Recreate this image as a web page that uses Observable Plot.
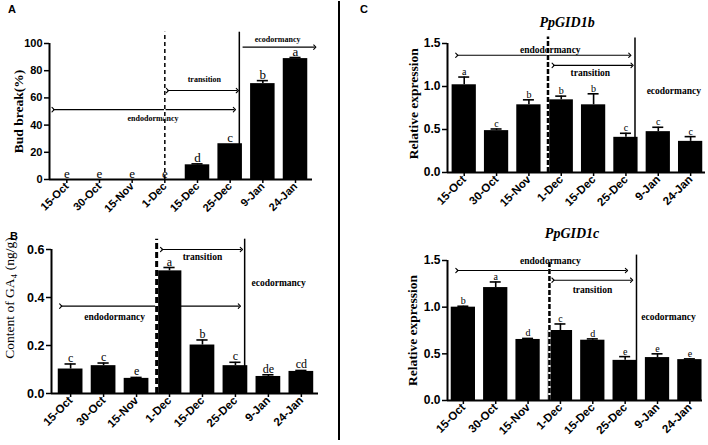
<!DOCTYPE html>
<html><head><meta charset="utf-8">
<script src="https://cdn.jsdelivr.net/npm/d3@7"></script>
<script src="https://cdn.jsdelivr.net/npm/@observablehq/plot@0.6"></script>
<style>
body{margin:0;background:#fff;}
#fig{position:relative;width:708px;height:445px;overflow:hidden;background:#fff;font-family:"Liberation Sans",Arial,sans-serif;}
.tag{position:absolute;font-weight:bold;font-size:11px;line-height:1;}
#divider{position:absolute;left:338px;top:1px;width:2px;height:439px;background:#000;}
</style></head>
<body><div id="fig"><div id="divider"></div></div>
<script>
// ---- data ----
const dates = ["15-Oct","30-Oct","15-Nov","1-Dec","15-Dec","25-Dec","9-Jan","24-Jan"];

const budBreak = [0, 0, 0, 0, 10.8, 26.3, 70.5, 88.9];
const budBreakSE = [0, 0, 0, 0, 0.7, 0, 2.2, 0.8];
const budBreakLetters = ["e","e","e","e","d","c","b","a"];

const ga4 = [0.102, 0.116, 0.063, 0.511, 0.202, 0.116, 0.071, 0.092];
const ga4SE = [0.021, 0.011, 0.004, 0.014, 0.021, 0.014, 0.007, 0.004];
const ga4Letters = ["c","c","e","a","b","c","de","cd"];

const gid1b = [1.02, 0.487, 0.787, 0.845, 0.787, 0.409, 0.475, 0.362];
const gid1bSE = [0.09, 0.019, 0.058, 0.043, 0.128, 0.047, 0.051, 0.055];
const gid1bLetters = ["a","c","b","b","b","c","c","c"];

const gid1c = [1.0, 1.21, 0.654, 0.75, 0.646, 0.43, 0.46, 0.438];
const gid1cSE = [0.01, 0.06, 0.011, 0.07, 0.014, 0.04, 0.04, 0.008];
const gid1cLetters = ["b","a","d","c","d","e","e","e"];

const ticksA = [0, 20, 40, 60, 80, 100];
const ticksB = [0, 0.2, 0.4, 0.6];
const ticksC = [0, 0.5, 1.0, 1.5];

// ---- dormancy-phase annotations (in category-index / value units) ----
const arrowsA = [
  {phase: "endodormancy", from: -0.42, to: 5.13, at: 51.4, heads: 2},
  {phase: "transition", from: 3.08, to: 5.22, at: 65.4, heads: 2},
  {phase: "ecodormancy", from: 5.38, to: 7.59, at: 97.3, heads: 1}
];
const phaseTextA = [
  {phase: "endodormancy", x: 2.64, y: 44.9},
  {phase: "transition", x: 4.21, y: 73.5},
  {phase: "ecodormancy", x: 6.45, y: 103}
];
const arrowsB = [
  {phase: "endodormancy", from: -0.30, to: 5.12, at: 0.364, heads: 2},
  {phase: "transition", from: 2.76, to: 5.18, at: 0.6, heads: 2}
];
const phaseTextB = [
  {phase: "endodormancy", x: 1.335, y: 0.317},
  {phase: "transition", x: 4.0, y: 0.568},
  {phase: "ecodormancy", x: 6.31, y: 0.46}
];
const arrowsC1 = [
  {phase: "endodormancy", from: -0.23, to: 5.12, at: 1.363, heads: 2},
  {phase: "transition", from: 2.75, to: 5.19, at: 1.246, heads: 2}
];
const phaseTextC1 = [
  {phase: "endodormancy", x: 2.66, y: 1.43},
  {phase: "transition", x: 3.9, y: 1.157},
  {phase: "ecodormancy", x: 6.48, y: 0.945}
];
const arrowsC2 = [
  {phase: "endodormancy", from: -0.2, to: 5.04, at: 1.393, heads: 2},
  {phase: "transition", from: 2.77, to: 5.2, at: 1.289, heads: 2}
];
const phaseTextC2 = [
  {phase: "endodormancy", x: 2.69, y: 1.5},
  {phase: "transition", x: 3.99, y: 1.18},
  {phase: "ecodormancy", x: 6.34, y: 0.89}
];

const SERIF = "'Liberation Serif','Times New Roman',serif";
const SANS = "'Liberation Sans',Arial,sans-serif";

function drawPanel(c) {
  const idx = d3.range(dates.length);
  const rows = idx.map(i => ({i, v: c.values[i], top: c.values[i] + c.se[i], letter: c.letters[i]}));
  const withErr = rows.filter(r => r.top > r.v);
  const hw = 0.375, cap = 0.17;
  const y0 = c.yDomain[0];
  const marks = [
    // phase arrows
    Plot.link(c.arrows, {filter: d => d.heads === 2, x1: "from", x2: "to", y1: "at", y2: "at",
      stroke: "black", strokeWidth: 1.1, markerStart: "arrow", markerEnd: "arrow"}),
    Plot.link(c.arrows, {filter: d => d.heads === 1, x1: "from", x2: "to", y1: "at", y2: "at",
      stroke: "black", strokeWidth: 1.1, markerEnd: "arrow"}),
    // ecodormancy boundary
    Plot.ruleX([c.solid], {x: "x", y1: y0, y2: "top", stroke: "black", strokeWidth: 1.5}),
    // bars
    Plot.rect(rows, {x1: d => d.i - hw, x2: d => d.i + hw, y1: y0, y2: "v", fill: "black"}),
    // error bars
    Plot.ruleX(withErr, {x: "i", y1: "v", y2: "top", stroke: "black", strokeWidth: 1.6}),
    Plot.ruleY(withErr, {y: "top", x1: d => d.i - cap, x2: d => d.i + cap, stroke: "black", strokeWidth: 1.6}),
    // phase labels
    Plot.text(c.phaseText, {x: "x", y: "y", text: "phase", fontFamily: SERIF, fontWeight: "bold", fontSize: c.annSize, fill: "black"}),
    // transition boundary (dashed)
    Plot.ruleX([c.dashed], {x: "x", y1: y0, y2: "top", stroke: "white", strokeWidth: c.dashW}),
    Plot.ruleX([c.dashed], {x: "x", y1: y0, y2: "top", stroke: "black", strokeWidth: c.dashW, strokeDasharray: c.dashArray}),
    // significance letters
    Plot.text(rows, {x: "i", y: "top", text: "letter", lineAnchor: "bottom", dy: -2,
      fontFamily: SERIF, fontWeight: "normal", fontSize: c.letterSize, fill: "black"}),
    // axes
    Plot.ruleY([y0], {stroke: "black", strokeWidth: 2}),
    Plot.ruleX([c.xDomain[0]], {y1: c.yDomain[0], y2: c.yDomain[1], stroke: "black", strokeWidth: 2}),
    Plot.axisY({ticks: c.yTicks, tickFormat: c.yFormat, tickSize: 5, tickPadding: 2, strokeWidth: 1.5, label: null,
      fontWeight: "bold", fontFamily: SANS, fontSize: c.yTickSize}),
    Plot.axisX({ticks: idx, tickFormat: i => dates[i], tickRotate: -45, tickSize: 4, tickPadding: 1, strokeWidth: 1.5, label: null,
      fontWeight: "bold", fontFamily: SANS, fontSize: c.xTickSize}),
    // y title
    Plot.text([c.yLabel], {x: "x", y: "y", text: "text", rotate: -90, textAnchor: "middle", lineAnchor: "middle",
      fontFamily: SERIF, fontWeight: c.yLabelWeight, fontSize: 13.5, fill: "black"})
  ];
  if (c.title) {
    marks.push(Plot.text([c.title], {x: "x", y: "y", text: "text", fontFamily: SERIF, fontWeight: "bold", fontStyle: "italic", fontSize: 14, fill: "black"}));
  }
  const svg = Plot.plot({
    width: c.width, height: c.height,
    marginLeft: c.m[0], marginRight: c.m[1], marginTop: c.m[2], marginBottom: c.m[3],
    x: {type: "linear", domain: c.xDomain},
    y: {type: "linear", domain: c.yDomain},
    style: {fontFamily: SANS, fontSize: "11px", fontWeight: "bold", background: "transparent", overflow: "visible", color: "black"},
    marks
  });
  svg.style.position = "absolute";
  svg.style.left = c.left + "px";
  svg.style.top = c.top + "px";
  document.getElementById("fig").appendChild(svg);
}

drawPanel({
  values: budBreak, se: budBreakSE, letters: budBreakLetters,
  yDomain: [0, 100], yTicks: ticksA, yFormat: d3.format("d"),
  xDomain: [-0.53, 7.52],
  left: 0, top: 0, width: 338, height: 210, m: [49, 26, 43, 31],
  arrows: arrowsA, phaseText: phaseTextA,
  solid: {x: 5.28, top: 108.3}, dashed: {x: 3.0, top: 108.3}, dashW: 1.5, dashArray: "4,3",
  letterSize: 13, annSize: 8, yTickSize: 11, xTickSize: 11,
  yLabel: {text: "Bud break(%)", x: -1.46, y: 50}, yLabelWeight: "bold"
});

drawPanel({
  values: ga4, se: ga4SE, letters: ga4Letters,
  yDomain: [0, 0.6], yTicks: ticksB, yFormat: d3.format(".1f"),
  xDomain: [-0.58, 7.52],
  left: 0, top: 210, width: 338, height: 235, m: [51, 20, 39, 52],
  arrows: arrowsB, phaseText: phaseTextB,
  solid: {x: 5.28, top: 0.643}, dashed: {x: 2.61, top: 0.643}, dashW: 3, dashArray: "6,3",
  letterSize: 12, annSize: 9.5, yTickSize: 12.5, xTickSize: 11.5,
  yLabel: {text: "Content of GA₄ (ng/g)", x: -1.85, y: 0.398}, yLabelWeight: "normal"
});

drawPanel({
  values: gid1b, se: gid1bSE, letters: gid1bLetters,
  yDomain: [0, 1.5], yTicks: ticksC, yFormat: d3.format(".1f"),
  xDomain: [-0.517, 7.46],
  left: 342, top: 0, width: 366, height: 210, m: [105, 3, 43, 38],
  arrows: arrowsC1, phaseText: phaseTextC1,
  solid: {x: 5.28, top: 1.565}, dashed: {x: 2.59, top: 1.577}, dashW: 2.5, dashArray: "5,2",
  letterSize: 10, annSize: 9.5, yTickSize: 12, xTickSize: 11.5,
  title: {text: "PpGID1b", x: 3.18, y: 1.74},
  yLabel: {text: "Relative expression", x: -1.56, y: 0.80}, yLabelWeight: "bold"
});

drawPanel({
  values: gid1c, se: gid1cSE, letters: gid1cLetters,
  yDomain: [0, 1.5], yTicks: ticksC, yFormat: d3.format(".1f"),
  xDomain: [-0.49, 7.39],
  left: 342, top: 210, width: 366, height: 235, m: [105, 6, 50, 45],
  arrows: arrowsC2, phaseText: phaseTextC2,
  solid: {x: 5.35, top: 1.558}, dashed: {x: 2.66, top: 1.48}, dashW: 2.5, dashArray: "5,2",
  letterSize: 10, annSize: 9.5, yTickSize: 12, xTickSize: 11.5,
  title: {text: "PpGID1c", x: 3.36, y: 1.79},
  yLabel: {text: "Relative expression", x: -1.57, y: 0.75}, yLabelWeight: "bold"
});

// panel tags
[["A", 8, 4], ["B", 10, 231], ["C", 360, 4]].forEach(([t, x, y]) => {
  const s = document.createElement("div");
  s.className = "tag"; s.textContent = t;
  s.style.left = x + "px"; s.style.top = y + "px";
  document.getElementById("fig").appendChild(s);
});
</script>
</body></html>
